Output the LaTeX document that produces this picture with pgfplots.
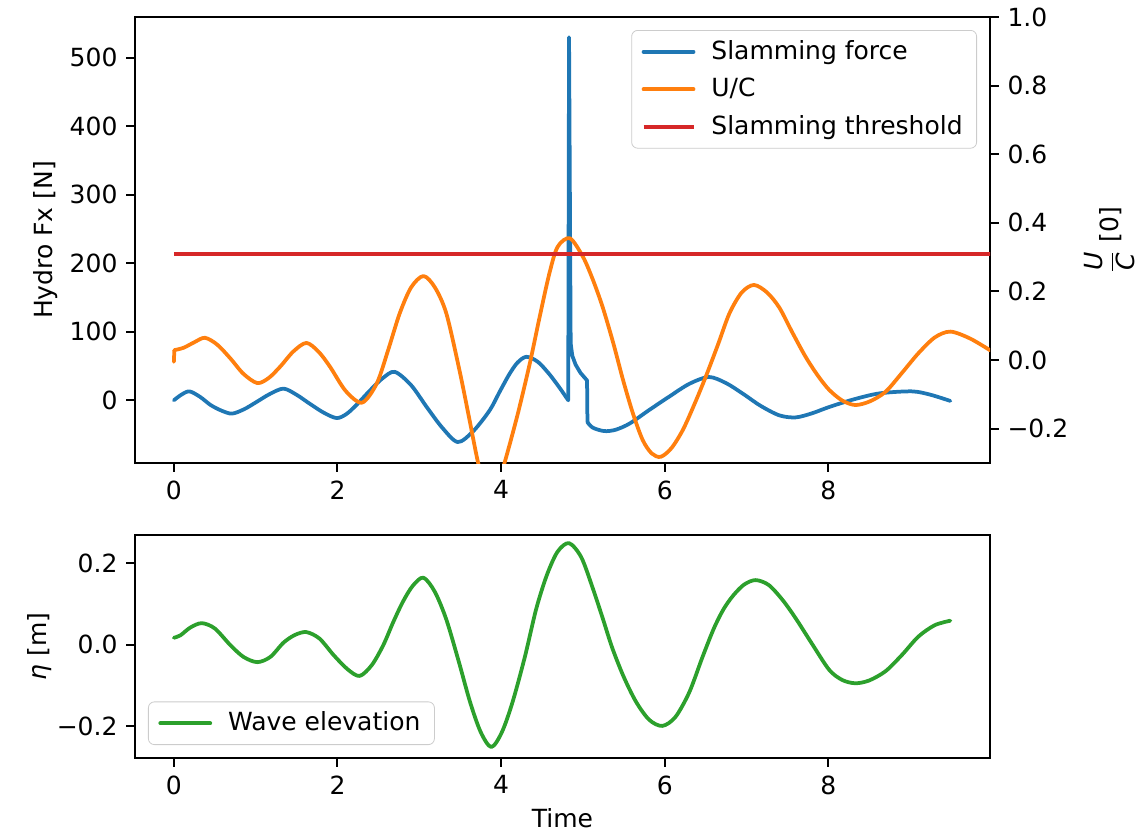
\documentclass[border=0pt]{standalone}
\usepackage{amsmath}
\usepackage{fontspec}
\setmainfont{DejaVu Sans}
\usepackage{pgfplots}
\pgfplotsset{compat=1.18}

\definecolor{tabblue}{HTML}{1F77B4}
\definecolor{taborange}{HTML}{FF7F0E}
\definecolor{tabred}{HTML}{D62728}
\definecolor{tabgreen}{HTML}{2CA02C}

\pgfplotsset{
  mplbase/.style={
    scale only axis, width=427.5pt,
    xmin=-0.475, xmax=9.975,
    tick align=outside, major tick length=4.4pt,
    tick style={line width=1pt, black},
    axis line style={line width=1pt},
    legend cell align=left,
    legend image code/.code={\draw[#1] (0pt,0pt) -- (25pt,0pt);},
  },
  mpllegend/.style={
    draw=black!20, rounded corners=3pt, fill=white, fill opacity=0.8, text opacity=1,
    inner xsep=5pt, inner ysep=3pt, row sep=3.5pt, column sep=6pt,
    nodes={inner sep=2pt},
  },
  curve/.style={line width=1.875pt, line join=round, line cap=round},
}

\begin{document}
\fontsize{12.5}{15}\selectfont
\begin{tikzpicture}
\useasboundingbox (-67.5pt,-184.5pt) rectangle (502.5pt,231.5pt);

% top panel, left axis: slamming force
\begin{axis}[mplbase, name=top, at={(0,0)}, height=223pt,
  ymin=-91.6, ymax=559.6,
  xtick={0,2,4,6,8}, xticklabels={0,2,4,6,8},
  ytick={0,100,200,300,400,500}, yticklabels={0,100,200,300,400,500},
  xtick pos=left, ytick pos=left,
  ylabel={Hydro Fx [N]},
  ylabel style={at={(axis description cs:-0.104,0.5)}, anchor=center},
]
\addplot[curve, tabblue, smooth, forget plot] coordinates {
  (0,0) (0.09,8) (0.19,13) (0.32,5) (0.45,-7) (0.58,-15) (0.71,-19.5) (0.86,-13)
  (1.01,-2.5) (1.17,9) (1.34,17) (1.50,8) (1.66,-5) (1.83,-18) (1.99,-26) (2.11,-20)
  (2.23,-7) (2.40,14.7) (2.55,32) (2.70,41.5) (2.90,22) (3.09,-9.8) (3.28,-40)
  (3.47,-61) (3.66,-45) (3.86,-14.7) (3.98,12) (4.10,38) (4.20,55) (4.31,63.5)
  (4.45,56) (4.59,38) (4.71,19) (4.82,0)
};
\addplot[curve, tabblue, forget plot] coordinates {
  (4.82,0) (4.83,530) (4.85,83) (4.87,65) (4.91,52) (4.97,40) (5.05,29) (5.055,-32)
};
\addplot[curve, tabblue, smooth, forget plot] coordinates {
  (5.055,-32) (5.12,-40) (5.26,-45) (5.40,-43) (5.57,-34) (5.80,-15) (6.05,5)
  (6.30,24) (6.54,34) (6.75,25) (6.95,10) (7.17,-8) (7.40,-22) (7.60,-25)
  (7.80,-19) (8.01,-9.8) (8.30,1) (8.62,10) (9.02,13) (9.25,8) (9.49,-1)
};
\end{axis}

% top panel, right axis: U/C and threshold
\begin{axis}[mplbase, at={(0,0)}, height=223pt,
  axis y line*=right, axis x line=none,
  ymin=-0.3, ymax=1.0,
  ytick={-0.2,0,0.2,0.4,0.6,0.8,1.0},
  yticklabels={{−0.2},{0.0},{0.2},{0.4},{0.6},{0.8},{1.0}},
  ylabel={$\dfrac{\textit{U}}{\textit{C}}$ [0]},
  ylabel style={at={(axis description cs:1.14,0.5)}, anchor=center},
  legend style={mpllegend, at={(1,1)}, anchor=north east, xshift=-6.5pt, yshift=-6.5pt},
]
\addlegendimage{curve, tabblue}
\addlegendentry{Slamming force}
\addplot[curve, taborange, forget plot] coordinates {(0,-0.005) (0.006,0.029)};
\addplot[curve, taborange, smooth] coordinates {
  (0.006,0.029) (0.12,0.036) (0.25,0.052) (0.38,0.065) (0.53,0.045) (0.69,0.005)
  (0.85,-0.040) (1.02,-0.067) (1.16,-0.052) (1.30,-0.019) (1.46,0.025) (1.62,0.050)
  (1.77,0.024) (1.91,-0.020) (2.10,-0.090) (2.30,-0.124) (2.48,-0.068) (2.62,0.030)
  (2.76,0.136) (2.90,0.212) (3.05,0.245) (3.19,0.212) (3.33,0.136) (3.49,-0.029)
  (3.61,-0.17) (3.72,-0.301) (3.80,-0.36) (3.88,-0.385) (3.96,-0.36) (4.04,-0.301)
  (4.20,-0.160) (4.35,-0.010) (4.47,0.125) (4.59,0.253) (4.69,0.330) (4.84,0.355)
  (5.00,0.301) (5.12,0.235) (5.24,0.155) (5.37,0.050) (5.49,-0.058) (5.61,-0.155)
  (5.73,-0.233) (5.84,-0.272) (5.95,-0.282) (6.08,-0.257) (6.22,-0.204) (6.36,-0.130)
  (6.50,-0.049) (6.65,0.045) (6.79,0.136) (6.94,0.197) (7.09,0.219) (7.25,0.197)
  (7.40,0.153) (7.56,0.080) (7.72,0.010) (7.87,-0.045) (8.01,-0.087) (8.17,-0.118)
  (8.33,-0.131) (8.51,-0.120) (8.70,-0.092) (8.90,-0.037) (9.10,0.020) (9.30,0.066)
  (9.49,0.083) (9.73,0.063) (9.98,0.028)
};
\addlegendentry{U/C}
\addplot[curve, tabred, line cap=butt] coordinates {(0,0.309) (10.2,0.309)};
\addlegendentry{Slamming threshold}
\end{axis}

% bottom panel: wave elevation
\begin{axis}[mplbase, at={(0,-36pt)}, anchor=north west, height=111.5pt,
  ymin=-0.279, ymax=0.270,
  xtick={0,2,4,6,8}, xticklabels={0,2,4,6,8},
  ytick={-0.2,0,0.2}, yticklabels={{−0.2},{0.0},{0.2}},
  xtick pos=left, ytick pos=left,
  xlabel={Time},
  xlabel style={at={(axis description cs:0.5,-0.268)}, anchor=center},
  ylabel={{\itshape η} [m]},
  ylabel style={at={(axis description cs:-0.111,0.5)}, anchor=center},
  legend style={mpllegend, at={(0,0)}, anchor=south west, xshift=6.5pt, yshift=6.5pt},
]
\addplot[curve, tabgreen, smooth] coordinates {
  (0,0.017) (0.08,0.023) (0.20,0.042) (0.34,0.053) (0.50,0.040) (0.69,-0.001)
  (0.85,-0.030) (1.02,-0.043) (1.18,-0.030) (1.34,0.005) (1.48,0.024) (1.62,0.031)
  (1.78,0.015) (1.95,-0.025) (2.12,-0.060) (2.27,-0.077) (2.42,-0.050) (2.56,-0.001)
  (2.68,0.055) (2.80,0.106) (2.92,0.145) (3.05,0.165) (3.19,0.130) (3.33,0.062)
  (3.48,-0.040) (3.62,-0.141) (3.75,-0.215) (3.88,-0.252) (4.01,-0.215) (4.14,-0.141)
  (4.29,-0.030) (4.43,0.089) (4.56,0.172) (4.69,0.229) (4.83,0.250) (4.98,0.215)
  (5.12,0.139) (5.24,0.066) (5.36,-0.009) (5.50,-0.080) (5.65,-0.141) (5.81,-0.185)
  (5.97,-0.200) (6.13,-0.178) (6.30,-0.117) (6.46,-0.031) (6.60,0.040) (6.72,0.088)
  (6.84,0.122) (6.97,0.148) (7.11,0.159) (7.27,0.147) (7.44,0.110) (7.60,0.065)
  (7.80,0.002) (8.01,-0.062) (8.17,-0.087) (8.33,-0.095) (8.50,-0.088) (8.70,-0.065)
  (8.90,-0.025) (9.10,0.020) (9.30,0.048) (9.49,0.059)
};
\addlegendentry{Wave elevation}
\end{axis}
\end{tikzpicture}
\end{document}
